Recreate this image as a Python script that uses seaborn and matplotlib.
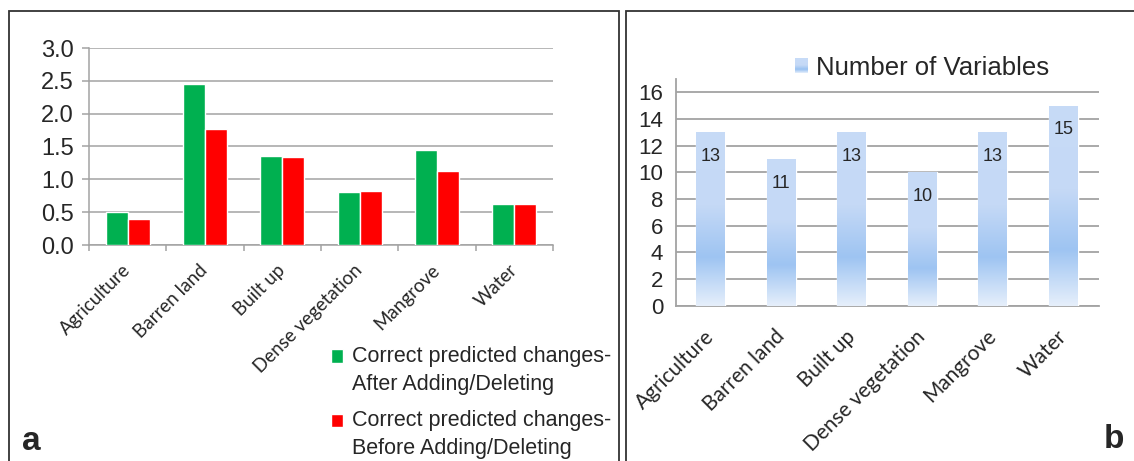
import numpy as np
import pandas as pd
import matplotlib
matplotlib.use("Agg")
import matplotlib.pyplot as plt
import seaborn as sns
from matplotlib.patches import Rectangle
from matplotlib.colors import LinearSegmentedColormap
from matplotlib.legend_handler import HandlerBase

# ---- data -------------------------------------------------------------
categories = ["Agriculture", "Barren land", "Built up",
              "Dense vegetation", "Mangrove", "Water"]
after_values = [0.50, 2.45, 1.35, 0.81, 1.44, 0.63]
before_values = [0.40, 1.77, 1.34, 0.82, 1.13, 0.63]
series_names = ["Correct predicted changes-\nAfter Adding/Deleting",
                "Correct predicted changes-\nBefore Adding/Deleting"]
variable_counts = [13, 11, 13, 10, 13, 15]
variables_label = "Number of Variables"
left_yticks = [0.0, 0.5, 1.0, 1.5, 2.0, 2.5, 3.0]
right_yticks = [0, 2, 4, 6, 8, 10, 12, 14, 16]

# ---- style ------------------------------------------------------------
sns.set_style("white")
plt.rcParams["font.family"] = ["Liberation Sans", "DejaVu Sans"]
GRID = "#a3a3a3"
LABEL_FONT = ["Lato", "DejaVu Sans"]

W, H = 1134, 461
fig = plt.figure(figsize=(W / 100, H / 100), dpi=100)


def px_axes(x0, x1, ytop, ybot):
    return fig.add_axes([x0 / W, (H - ybot) / H, (x1 - x0) / W, (ybot - ytop) / H])


axA = px_axes(89, 553, 48, 245)
axB = px_axes(675.5, 1098.5, 79, 305.7)

# ---- panel a: grouped bars -------------------------------------------
dfA = pd.DataFrame({
    "Land cover": categories * 2,
    "Value": after_values + before_values,
    "Series": [series_names[0]] * len(categories) + [series_names[1]] * len(categories),
})
sns.barplot(data=dfA, x="Land cover", y="Value", hue="Series",
            palette=["#00b050", "#ff0000"], width=0.573, gap=0,
            saturation=1, errorbar=None, ax=axA, zorder=3)
handles, labels = axA.get_legend_handles_labels()
axA.get_legend().remove()

axA.set_ylim(0, 3)
axA.set_xlim(-0.5, len(categories) - 0.5)
axA.set_yticks(left_yticks)
axA.set_yticklabels([f"{t:.1f}" for t in left_yticks])
axA.set_xlabel("")
axA.set_ylabel("")
axA.yaxis.grid(True, color=GRID, lw=1.1, zorder=0)
axA.set_axisbelow(True)
for s in ["top", "right"]:
    axA.spines[s].set_visible(False)
for s in ["left", "bottom"]:
    axA.spines[s].set_color(GRID)
    axA.spines[s].set_linewidth(1.1)
axA.tick_params(axis="y", length=5, width=1.1, color=GRID, pad=6, labelsize=17,
                direction="out", left=True)
axA.set_xticks(np.arange(-0.5, len(categories), 1), minor=True)
axA.tick_params(axis="x", which="minor", length=4.5, width=1.1, color=GRID,
                direction="out", bottom=True)
axA.tick_params(axis="x", which="major", length=0, pad=16)
axA.set_xticklabels(categories)
for lab in axA.get_xticklabels():
    lab.set_rotation(45)
    lab.set_ha("right")
    lab.set_va("center")
    lab.set_rotation_mode("anchor")
    lab.set_fontsize(13.5)
    lab.set_family(LABEL_FONT)

legA = fig.legend(handles, labels, loc="upper left",
                  bbox_to_anchor=(331 / W, 1 - 346 / H), frameon=False,
                  fontsize=15.5, handlelength=0.56, handleheight=0.56,
                  handletextpad=0.42, labelspacing=0.72, borderpad=0,
                  borderaxespad=0)
for t in legA.get_texts():
    t.set_linespacing(1.42)
for hnd in legA.legend_handles:
    hnd.set_y(hnd.get_y() + 10.6)

# ---- panel b: gradient bars ------------------------------------------
sns.barplot(x=categories, y=variable_counts, color="#c5d9f6", width=0.41,
            saturation=1, errorbar=None, ax=axB, zorder=3)
axB.set_ylim(0, 17)
axB.set_xlim(-0.5, len(categories) - 0.5)
axB.set_yticks(right_yticks)
axB.yaxis.grid(True, color=GRID, lw=1.3, zorder=0)
axB.set_axisbelow(True)
for s in ["top", "right"]:
    axB.spines[s].set_visible(False)
for s in ["left", "bottom"]:
    axB.spines[s].set_color(GRID)
    axB.spines[s].set_linewidth(1.3)
axB.tick_params(axis="y", length=0, pad=9, labelsize=16)
axB.tick_params(axis="x", length=0, pad=20)
axB.set_xticks(range(len(categories)))
axB.set_xticklabels(categories)
for lab in axB.get_xticklabels():
    lab.set_rotation(45)
    lab.set_ha("right")
    lab.set_va("center")
    lab.set_rotation_mode("anchor")
    lab.set_fontsize(15)
    lab.set_family(LABEL_FONT)

bar_cmap = LinearSegmentedColormap.from_list(
    "bar_fill",
    [(0.0, "#e6effb"), (0.28, "#9ec4f2"), (0.58, "#c5d9f6"), (1.0, "#c7dbf7")])
grad = np.linspace(0, 1, 256).reshape(-1, 1)
bars = list(axB.patches)
for patch, v in zip(bars, variable_counts):
    x0, w = patch.get_x(), patch.get_width()
    im = axB.imshow(grad, cmap=bar_cmap, origin="lower", aspect="auto",
                    extent=[x0, x0 + w, 0, patch.get_height()], zorder=3.5,
                    interpolation="bilinear")
    im.set_clip_path(patch)
    axB.annotate(str(v), (x0 + w / 2, v), xytext=(0, -17.5),
                 textcoords="offset points", ha="center", va="center",
                 fontsize=13, zorder=5)
axB.set_ylim(0, 17)
axB.set_xlim(-0.5, len(categories) - 0.5)


class GradientSquare(HandlerBase):
    def create_artists(self, legend, orig_handle, xdescent, ydescent,
                       width, height, fontsize, trans):
        n = 12
        arts = []
        for i in range(n):
            frac = (i + 0.5) / n
            r = Rectangle((-xdescent, -ydescent + i * height / n), width,
                          height / n + 0.05, facecolor=bar_cmap(frac),
                          edgecolor="none", transform=trans)
            arts.append(r)
        return arts


proxy = Rectangle((0, 0), 1, 1)
fig.legend([proxy], [variables_label], loc="center left",
           bbox_to_anchor=(795 / W, 1 - 68 / H), frameon=False,
           fontsize=18.5, handlelength=0.5, handleheight=0.5,
           handletextpad=0.32, borderpad=0, borderaxespad=0,
           handler_map={Rectangle: GradientSquare()})

# ---- panel frames and letters ----------------------------------------
top = 1 - 11 / H
fig.add_artist(Rectangle((8.5 / W, -0.1), (619 - 8.5) / W, top + 0.1,
                         transform=fig.transFigure, fill=False,
                         edgecolor="#333333", lw=1.3))
fig.add_artist(Rectangle((625.5 / W, -0.1), (1145 - 625.5) / W, top + 0.1,
                         transform=fig.transFigure, fill=False,
                         edgecolor="#333333", lw=1.3))
fig.text(31 / W, 1 - 441 / H, "a", fontsize=24, fontweight="bold",
         ha="center", va="center")
fig.text(1114 / W, 1 - 439 / H, "b", fontsize=24, fontweight="bold",
         ha="center", va="center")

fig.savefig("out.png", dpi=100)
